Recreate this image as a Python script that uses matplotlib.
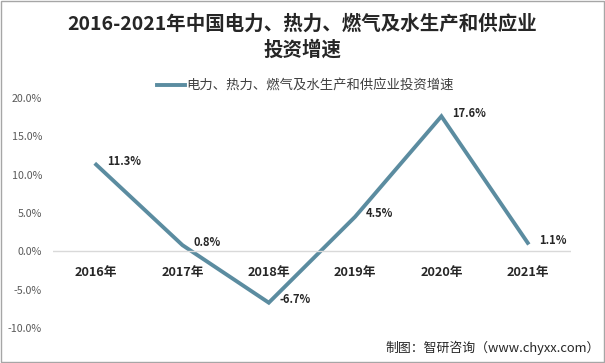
import matplotlib
matplotlib.use("Agg")
import matplotlib.pyplot as plt
from matplotlib.patches import Rectangle

plt.rcParams['font.family'] = ['Noto Sans CJK SC', 'DejaVu Sans']

years = ["2016年", "2017年", "2018年", "2019年", "2020年", "2021年"]
growth = [11.3, 0.8, -6.7, 4.5, 17.6, 1.1]
yticks = [-10, -5, 0, 5, 10, 15, 20]
series_name = "电力、热力、燃气及水生产和供应业投资增速"
title_lines = ["2016-2021年中国电力、热力、燃气及水生产和供应业", "投资增速"]
source = "制图：智研咨询（www.chyxx.com）"

W, H = 605, 363
fig = plt.figure(figsize=(W / 100, H / 100), dpi=100)
ax = fig.add_axes([0.0876, 0.0964, 0.856, 0.634])

x = list(range(len(years)))
line, = ax.plot(x, growth, color="#5B8CA0", lw=2.8, solid_joinstyle="miter",
                label=series_name)
for xi, v in zip(x, growth):
    ax.annotate(f"{v:.1f}%", (xi, v), xytext=(8, 2), textcoords="offset points",
                ha="left", va="center", fontsize=8, fontweight="bold", color="#262626")

ax.set_xlim(-0.5, len(years) - 0.5)
ax.set_ylim(-10, 20)
ax.set_yticks(yticks)
ax.set_yticklabels([f"{t:.1f}%" for t in yticks], fontsize=7.7, color="#595959")
ax.set_xticks([])
ax.axhline(0, color="#D9D9D9", lw=1)
for s in ax.spines.values():
    s.set_visible(False)
ax.tick_params(axis="y", length=0, pad=8)

for xi, lab in zip(x, years):
    ax.annotate(lab, (xi, 0), xytext=(0, -15), textcoords="offset points",
                ha="center", va="center", fontsize=9.2, fontweight="bold", color="#262626")

fig.text(0.5, 1 - 24 / H, title_lines[0], ha="center", va="center", fontsize=14,
         fontweight="bold", color="#262626")
fig.text(0.5, 1 - 50 / H, title_lines[1], ha="center", va="center", fontsize=14,
         fontweight="bold", color="#262626")

leg = fig.legend(handles=[line], loc="center", bbox_to_anchor=(0.505, 1 - 86 / H),
                 frameon=False, fontsize=9.6, handlelength=2.1, handletextpad=0.15)
for t in leg.get_texts():
    t.set_color("#404040")

fig.text(0.992, 1 - 348 / H, source, ha="right", va="center", fontsize=9.3, color="#262626")

fig.patches.append(Rectangle((0.001, 0.002), 0.997, 0.995, transform=fig.transFigure,
                             fill=False, edgecolor="#A6A6A6", lw=1))

fig.savefig("out.png", dpi=100)
